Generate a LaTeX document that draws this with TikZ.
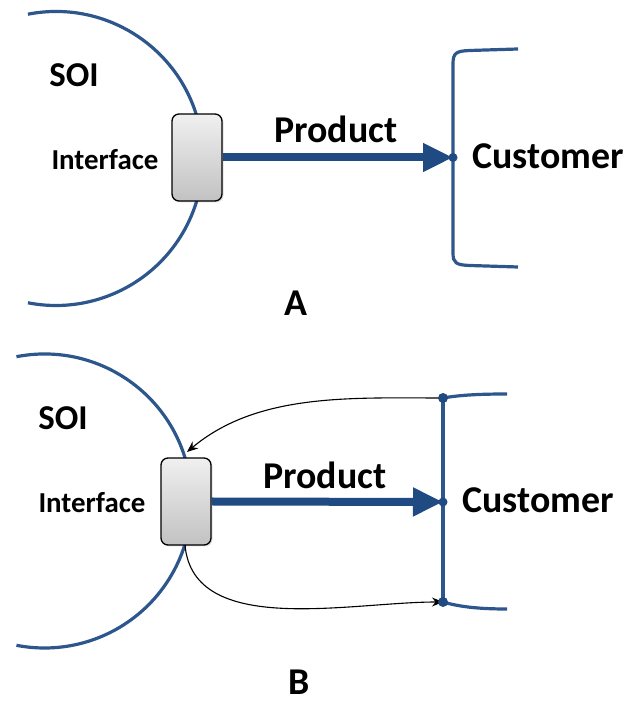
\documentclass[tikz,border=0pt]{standalone}
\usepackage{fontspec}
\setmainfont{Carlito}
\usetikzlibrary{arrows.meta,shadows}
\definecolor{soiblue}{RGB}{44,86,140}
\definecolor{arrowblue}{RGB}{31,75,130}
\tikzset{
  boundary/.style={draw=soiblue, line width=3.2bp},
  ifbox/.style={draw=black, line width=1.3bp, rounded corners=7bp,
    top color=gray!12, bottom color=gray!48, minimum width=50bp,
    minimum height=87bp, inner sep=0pt,
    drop shadow={shadow xshift=1.5bp, shadow yshift=-1.5bp, opacity=0.25}},
  flow/.style={draw=arrowblue, line width=8bp,
    -{Triangle[length=30bp,width=27bp]}},
  feedback/.style={draw=black, line width=1.1bp,
    -{Stealth[length=11bp,width=9bp]}},
  joint/.style={fill=arrowblue, draw=none},
  big/.style={font=\bfseries\fontsize{38}{38}\selectfont, inner sep=0pt},
  soi/.style={font=\bfseries\fontsize{35}{35}\selectfont, inner sep=0pt},
  small/.style={font=\bfseries\fontsize{29}{29}\selectfont, inner sep=0pt},
}
\begin{document}
\begin{tikzpicture}[x=1bp, y=1bp]
\useasboundingbox (0,0) rectangle (629,702);

% ---------- Panel A ----------
\draw[boundary] (56,543.5) ++(101:147) arc[start angle=101, end angle=-101, radius=147];
\node[ifbox] (ifA) at (197,544.5) {};
\draw[boundary] (518,653) -- (470,651.5)
  .. controls (456,651) and (453,649) .. (453,638)
  -- (453,449) .. controls (453,439) and (456,437) .. (470,436.5) -- (518,435);
\coordinate (custA) at (453,544.5);
\draw[flow] (ifA.east) -- (custA);
\fill[joint] (custA) circle (4.5bp);
\node[soi]   (soiA)  at (74,627) {SOI};
\node[small] (infA)  at (105,542) {Interface};
\node[big]   (prodA) at (336,573) {Product};
\node[big, anchor=west] (cusA) at (472,546) {Customer};
\node[big, anchor=base] (labA)  at (296,386) {A};

% ---------- Panel B ----------
\draw[boundary] (44.5,201) ++(101:147) arc[start angle=101, end angle=-101, radius=147];
\node[ifbox] (ifB) at (186,200.5) {};
\coordinate (custB) at (443,200);
\coordinate (topB) at (443,304);
\coordinate (botB) at (443,100);
\draw[boundary] (topB) -- (botB);
\draw[boundary] (topB) .. controls (460,307) and (480,308) .. (507,308);
\draw[boundary] (botB) .. controls (460,95) and (480,93) .. (507,93);
\coordinate (inB) at (187,250);
\coordinate (outB) at (185,157);
\draw[feedback] (topB) to[out=180, in=40, looseness=0.9] (inB);
\draw[feedback] (outB) to[out=-85, in=180, looseness=0.9] (botB);
\draw[flow] (ifB.east) -- (custB);
\fill[joint] (custB) circle (4.5bp);
\fill[joint] (topB) circle (5bp);
\fill[joint] (botB) circle (5bp);
\node[soi]   (soiB)  at (63,284) {SOI};
\node[small] (infB)  at (92,199) {Interface};
\node[big]   (prodB) at (325,227) {Product};
\node[big, anchor=west] (cusB) at (462,202) {Customer};
\node[big, anchor=base] (labB)  at (299,7.5) {B};
\end{tikzpicture}
\end{document}
